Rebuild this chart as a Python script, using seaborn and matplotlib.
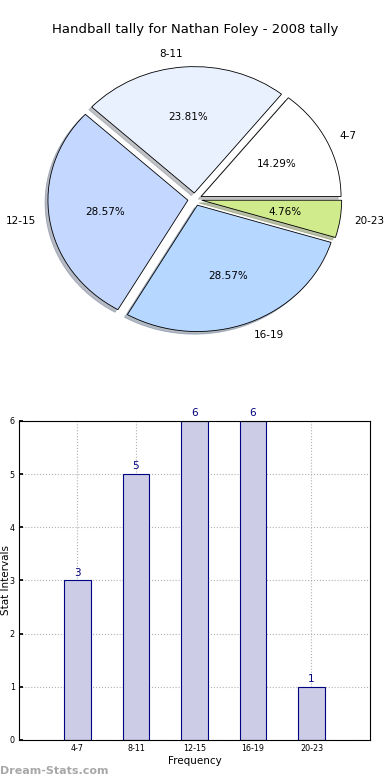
## Handball tally - pie + barras ##
import numpy as np
import pandas as pd
import matplotlib
matplotlib.use("Agg")
import matplotlib.pyplot as plt
import seaborn as sns

# Datos
intervalos = ['4-7', '8-11', '12-15', '16-19', '20-23']
conteos = [3, 5, 6, 6, 1]
colores_pie = ['#ffffff', '#e9f1ff', '#c4d8ff', '#b6d7ff', '#cfeb8c']
titulo = 'Handball tally for Nathan Foley - 2008 tally'

sns.set_theme(style='white')
plt.rcParams['font.family'] = ['DejaVu Sans']
plt.rcParams['text.color'] = 'black'
plt.rcParams['axes.labelcolor'] = 'black'
plt.rcParams['xtick.color'] = 'black'
plt.rcParams['ytick.color'] = 'black'

fig = plt.figure(figsize=(3.9, 7.8), dpi=100)

# Pie
ax1 = fig.add_axes([0.051, 0.542, 0.897, 0.405])
wedges, textos, autotextos = ax1.pie(conteos, labels=intervalos, colors=colores_pie,
                                     explode=[0.05] * len(conteos),
                                     shadow=dict(ox=-0.015, oy=-0.015, shade=0.45),
                                     autopct='%1.2f%%', startangle=0,
                                     wedgeprops=dict(edgecolor='black', linewidth=0.6),
                                     textprops=dict(fontsize=7.5, color='black'))
ax1.set_aspect('auto')
ax1.set_xlim(-1.25, 1.25)
ax1.set_ylim(-1.25, 1.25)
ax1.set_title(titulo, fontsize=9.5, pad=6, color='black')

# Barras
df = pd.DataFrame({'Intervalo': intervalos, 'Conteo': conteos})
ax2 = fig.add_axes([0.0487, 0.0513, 0.9, 0.409])
sns.barplot(data=df, x='Intervalo', y='Conteo', ax=ax2, width=0.45, color='#ccccE6',
            saturation=1, edgecolor='#000080', linewidth=0.8, zorder=2)
for i, v in enumerate(conteos):
    ax2.text(i, v + 0.05, str(v), ha='center', va='bottom', color='#000080', fontsize=7.5)
ax2.set_xlim(-1, 5)
ax2.set_ylim(0, 6)
ax2.grid(True, linestyle=':', color='#b0b0b0', linewidth=0.8, zorder=0)
ax2.set_axisbelow(True)
ax2.tick_params(labelsize=5.8, length=3, direction='in', left=True, bottom=True, pad=3)
for s in ax2.spines.values():
    s.set_color('black')
    s.set_linewidth(0.8)
ax2.set_xlabel('Frequency', fontsize=7.5, labelpad=2)
ax2.set_ylabel('Stat Intervals', fontsize=7.5)
ax2.yaxis.set_label_coords(-0.022, 0.5)

# Marca de agua
fig.text(0.0, 0.005, 'Dream-Stats.com', color='#a8a8a8', fontsize=8, fontweight='bold',
         ha='left', va='bottom')

fig.savefig('out.png', dpi=100)
